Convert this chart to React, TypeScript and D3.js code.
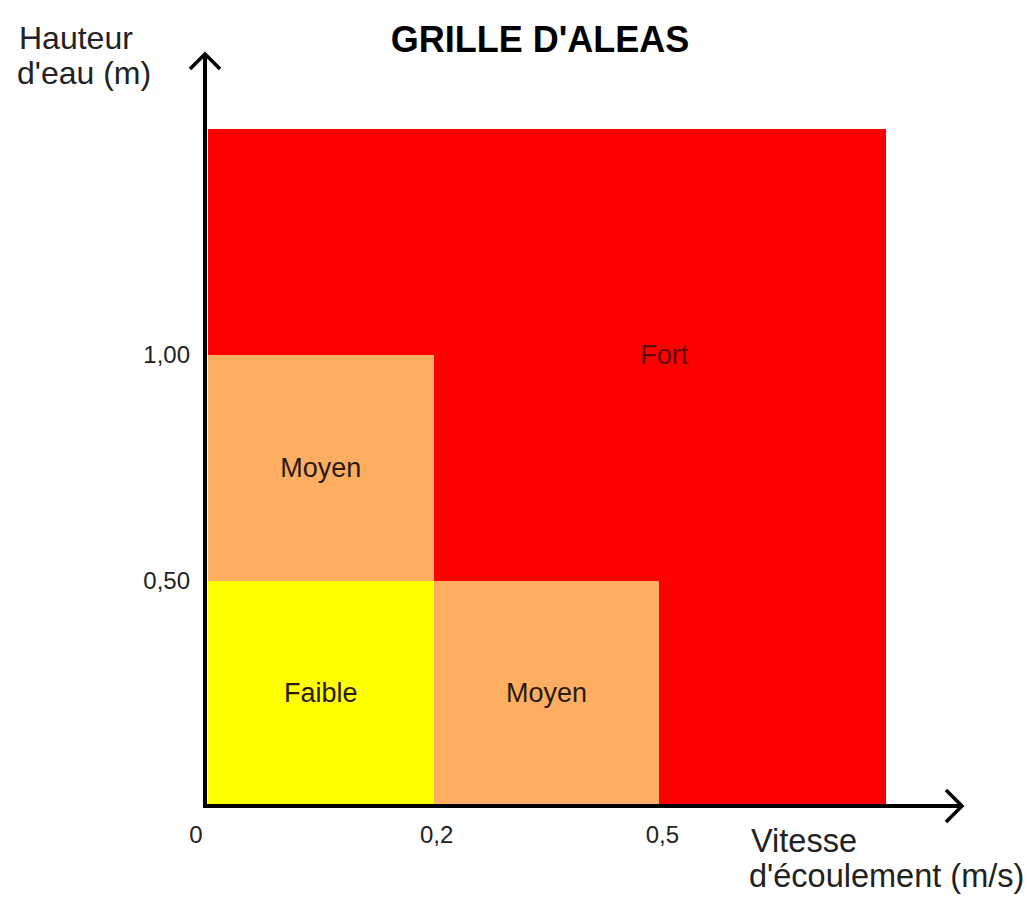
import * as d3 from "d3";
import React, { useEffect, useRef } from "react";

// velocity classes (columns) and water height classes (rows, top to bottom)
const speedClasses = ["0-0.2", "0.2-0.5", ">0.5"];
const heightClasses = [">1", "0.5-1", "0-0.5"];
const speedTicks = ["0", "0,2", "0,5"];
const heightTicks = ["1,00", "0,50"];

// hazard level per cell
const cells = [
  { speed: "0-0.2", height: "0-0.5", level: "Faible" },
  { speed: "0.2-0.5", height: "0-0.5", level: "Moyen" },
  { speed: ">0.5", height: "0-0.5", level: "Fort" },
  { speed: "0-0.2", height: "0.5-1", level: "Moyen" },
  { speed: "0.2-0.5", height: "0.5-1", level: "Fort" },
  { speed: ">0.5", height: "0.5-1", level: "Fort" },
  { speed: "0-0.2", height: ">1", level: "Fort" },
  { speed: "0.2-0.5", height: ">1", level: "Fort" },
  { speed: ">0.5", height: ">1", level: "Fort" },
];
const levelColors: Record<string, string> = {
  Faible: "#ffff00",
  Moyen: "#fdae61",
  Fort: "#ff0000",
};

const App: React.FC = () => {
  const ref = useRef<SVGSVGElement>(null);

  useEffect(() => {
    const width = 1034;
    const height = 903;
    const font = "'Liberation Sans', Arial, sans-serif";

    d3.select(ref.current).selectAll("*").remove();
    const svg = d3.select(ref.current)
      .attr("width", width)
      .attr("height", height)
      .style("font-family", font);

    const x = d3.scaleBand().domain(speedClasses).range([208, 885]).padding(0);
    const y = d3.scaleBand().domain(heightClasses).range([129, 806]).padding(0);

    // cells
    svg.append("g")
      .selectAll("rect")
      .data(cells)
      .join("rect")
      .attr("x", (d) => x(d.speed)!)
      .attr("y", (d) => y(d.height)!)
      .attr("width", x.bandwidth() + 0.5)
      .attr("height", y.bandwidth() + 0.5)
      .attr("fill", (d) => levelColors[d.level])
      .attr("shape-rendering", "crispEdges");

    // labels for Faible / Moyen cells
    svg.append("g")
      .selectAll("text")
      .data(cells.filter((d) => d.level !== "Fort"))
      .join("text")
      .attr("x", (d) => x(d.speed)! + x.bandwidth() / 2)
      .attr("y", (d) => y(d.height)! + y.bandwidth() / 2)
      .attr("text-anchor", "middle")
      .attr("dominant-baseline", "central")
      .style("font-size", "27px")
      .attr("fill", "#2a1a10")
      .text((d) => d.level);

    // Fort label sits at the inner corner of the red zone
    svg.append("text")
      .attr("x", x(">0.5")! + 5)
      .attr("y", y(">1")! + y.bandwidth())
      .attr("text-anchor", "middle")
      .attr("dominant-baseline", "central")
      .style("font-size", "27px")
      .attr("fill", "#5a0a0a")
      .text("Fort");

    // axes
    const x0 = 205;
    const y0 = 806;
    svg.append("line")
      .attr("x1", x0).attr("x2", x0)
      .attr("y1", y0 + 2).attr("y2", 54)
      .attr("stroke", "#000").attr("stroke-width", 4);
    svg.append("path")
      .attr("d", `M${x0 - 15},${69} L${x0},${54} L${x0 + 15},${69}`)
      .attr("fill", "none").attr("stroke", "#000").attr("stroke-width", 3.5);
    svg.append("line")
      .attr("x1", x0 - 2).attr("x2", 962)
      .attr("y1", y0).attr("y2", y0)
      .attr("stroke", "#000").attr("stroke-width", 4);
    svg.append("path")
      .attr("d", `M${946},${y0 - 16} L${962},${y0} L${946},${y0 + 16}`)
      .attr("fill", "none").attr("stroke", "#000").attr("stroke-width", 3.5);

    // x tick labels at class boundaries
    svg.append("g")
      .selectAll("text")
      .data(speedTicks)
      .join("text")
      .attr("x", (d, i) => (i === 0 ? x0 - 9 : x(speedClasses[i])! + 3))
      .attr("y", 843)
      .attr("text-anchor", "middle")
      .style("font-size", "24px")
      .attr("fill", "#222")
      .text((d) => d);

    // y tick labels at class boundaries
    svg.append("g")
      .selectAll("text")
      .data(heightTicks)
      .join("text")
      .attr("x", 190)
      .attr("y", (d, i) => y(heightClasses[i])! + y.bandwidth())
      .attr("text-anchor", "end")
      .attr("dominant-baseline", "central")
      .style("font-size", "24px")
      .attr("fill", "#222")
      .text((d) => d);

    // title
    svg.append("text")
      .attr("x", 540)
      .attr("y", 52)
      .attr("text-anchor", "middle")
      .style("font-size", "36px")
      .style("font-weight", "bold")
      .attr("fill", "#000")
      .text("GRILLE D'ALEAS");

    // y axis title
    const yTitle = svg.append("text")
      .style("font-size", "32px")
      .attr("fill", "#222");
    yTitle.append("tspan").attr("x", 19).attr("y", 49).text("Hauteur");
    yTitle.append("tspan").attr("x", 17).attr("y", 84).text("d'eau (m)");

    // x axis title
    const xTitle = svg.append("text")
      .style("font-size", "32.5px")
      .attr("fill", "#222");
    xTitle.append("tspan").attr("x", 751).attr("y", 852).text("Vitesse");
    xTitle.append("tspan").attr("x", 749).attr("y", 887).text("d'écoulement (m/s)");
  }, []);

  return (
    <div style={{ position: "absolute", left: 0, top: 0 }}>
      <svg ref={ref}></svg>
    </div>
  );
};

export default App;
